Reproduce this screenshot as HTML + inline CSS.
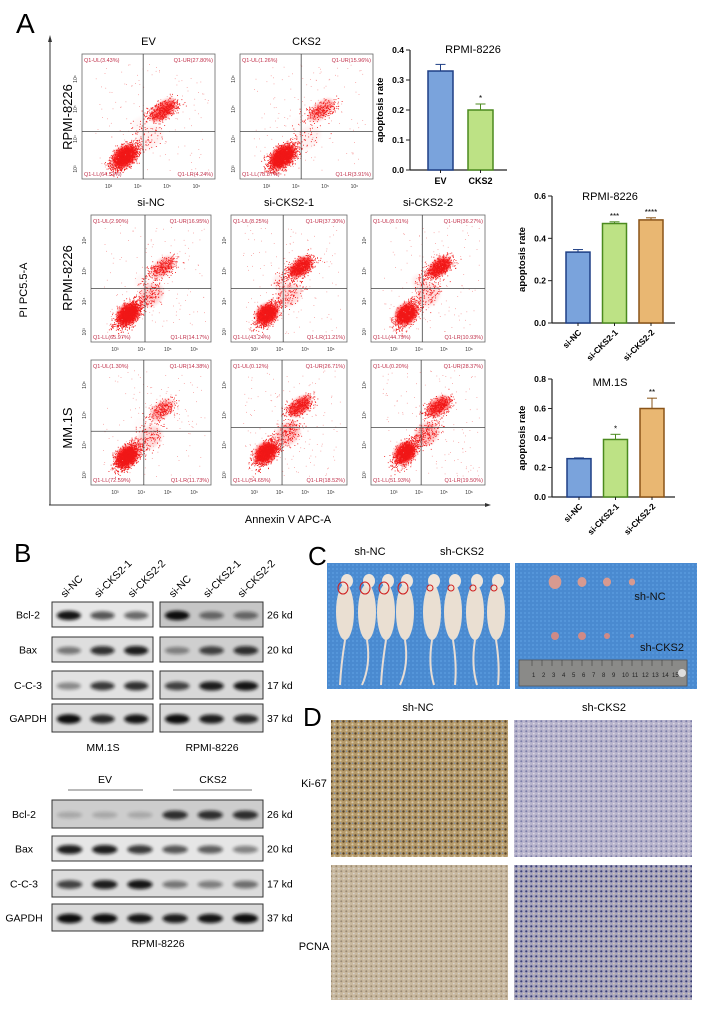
<!DOCTYPE html>
<html><head><meta charset="utf-8">
<style>
html,body{margin:0;padding:0;background:#fff;}
svg{display:block;font-family:"Liberation Sans",Arial,sans-serif;}
</style></head>
<body>
<svg id="fig" width="720" height="1015" viewBox="0 0 720 1015" xmlns="http://www.w3.org/2000/svg">
<defs>
  <filter id="blur1" x="-50%" y="-50%" width="200%" height="200%"><feGaussianBlur stdDeviation="1.6"/></filter>
  <filter id="blur2" x="-50%" y="-50%" width="200%" height="200%"><feGaussianBlur stdDeviation="3"/></filter>
  <pattern id="ki1" width="6" height="6" patternUnits="userSpaceOnUse"><rect width="6" height="6" fill="#b59a6a"/><circle cx="1.5" cy="1.5" r="1.2" fill="#5a4428"/><circle cx="4.5" cy="4.3" r="1.1" fill="#d8c8a8"/><circle cx="4.6" cy="1.2" r="0.8" fill="#7c90b0"/></pattern>
  <pattern id="ki2" width="5" height="5" patternUnits="userSpaceOnUse"><rect width="5" height="5" fill="#b8b4cc"/><circle cx="1.3" cy="1.3" r="1" fill="#7c7ea8"/><circle cx="3.8" cy="3.6" r="0.9" fill="#dcd8e4"/></pattern>
  <pattern id="pc1" width="5" height="5" patternUnits="userSpaceOnUse"><rect width="5" height="5" fill="#c8b89e"/><circle cx="1.3" cy="1.3" r="1" fill="#9a8a74"/><circle cx="3.8" cy="3.6" r="0.9" fill="#d8d2cc"/></pattern>
  <pattern id="pc2" width="5" height="5" patternUnits="userSpaceOnUse"><rect width="5" height="5" fill="#a9a6bd"/><circle cx="1.3" cy="1.3" r="1.1" fill="#3a3f78"/><circle cx="3.8" cy="3.6" r="0.9" fill="#d2c8b8"/></pattern>
  <pattern id="cloth" width="4" height="4" patternUnits="userSpaceOnUse"><rect width="4" height="4" fill="#4a8ad0"/><rect width="2" height="2" fill="#5596da"/></pattern>
</defs>

<text x="16" y="33" font-size="28">A</text>
<text x="14" y="562" font-size="26">B</text>
<text x="308" y="565" font-size="26">C</text>
<text x="303" y="726" font-size="26">D</text>

<g>
  <line x1="50" y1="505" x2="50" y2="40" stroke="#333" stroke-width="1"/>
  <polygon points="50,35 48,42 52,42" fill="#333"/>
  <line x1="49" y1="505" x2="487" y2="505" stroke="#333" stroke-width="1"/>
  <polygon points="491,505 485,503 485,507" fill="#333"/>
</g>
<text transform="translate(27,290) rotate(-90)" text-anchor="middle" font-size="11">PI PC5.5-A</text>
<text x="288" y="523" text-anchor="middle" font-size="11">Annexin V APC-A</text>
<text transform="translate(72,117) rotate(-90)" text-anchor="middle" font-size="13">RPMI-8226</text>
<text transform="translate(72,278) rotate(-90)" text-anchor="middle" font-size="13">RPMI-8226</text>
<text transform="translate(72,428) rotate(-90)" text-anchor="middle" font-size="13">MM.1S</text>
<g id="flow"></g>
<g id="bars"></g>
<g id="blots"></g>

<text x="370" y="555" text-anchor="middle" font-size="11">sh-NC</text>
<text x="462" y="555" text-anchor="middle" font-size="11">sh-CKS2</text>
<g>
  <rect x="327" y="563" width="183" height="126" fill="url(#cloth)"/>
  <g id="mice"></g>
</g>
<g>
  <rect x="515" y="563" width="182" height="126" fill="url(#cloth)"/>
  <g id="tumors"></g>
  <rect x="519" y="660" width="168" height="26" fill="#8a8a88" stroke="#555" stroke-width="0.8"/>
  <g id="ruler"></g>
  <circle cx="682" cy="673" r="4" fill="#ddd"/>
  <text x="650" y="600" text-anchor="middle" font-size="11" fill="#111">sh-NC</text>
  <text x="662" y="651" text-anchor="middle" font-size="11" fill="#111">sh-CKS2</text>
</g>

<text x="418" y="711" text-anchor="middle" font-size="11">sh-NC</text>
<text x="604" y="711" text-anchor="middle" font-size="11">sh-CKS2</text>
<text x="314" y="787" text-anchor="middle" font-size="11">Ki-67</text>
<text x="314" y="950" text-anchor="middle" font-size="11">PCNA</text>
<rect x="331" y="720" width="177" height="137" fill="url(#ki1)"/>
<rect x="514" y="720" width="178" height="137" fill="url(#ki2)"/>
<rect x="331" y="865" width="177" height="135" fill="url(#pc1)"/>
<rect x="514" y="865" width="178" height="135" fill="url(#pc2)"/>
</svg>

<script>
const NS="http://www.w3.org/2000/svg";
function mk(tag,attrs,parent,txt){const e=document.createElementNS(NS,tag);for(const k in attrs)e.setAttribute(k,attrs[k]);if(txt!==undefined)e.textContent=txt;parent.appendChild(e);return e;}

const flowTitles=["EV","CKS2","si-NC","si-CKS2-1","si-CKS2-2","","",""];
const flowUL=[3.43,1.26,2.90,8.25,8.01,1.30,0.12,0.20];
const flowUR=[27.80,15.96,16.95,37.30,36.27,14.38,26.71,28.37];
const flowLL=[64.53,78.87,65.97,43.24,44.79,72.59,54.65,51.93];
const flowLR=[4.24,3.91,14.17,11.21,10.93,11.73,18.52,19.50];
const flowBoxes=[[82,54,133,125],[240,54,133,125],[91,215,120,127],[231,215,116,127],[371,215,114,127],[91,360,120,125],[231,360,116,125],[371,360,114,125]];
const flowGate=[[0.46,0.62],[0.46,0.62],[0.45,0.58],[0.45,0.58],[0.45,0.58],[0.44,0.57],[0.44,0.54],[0.44,0.54]];
let seed=7;function rnd(){seed=(seed*16807)%2147483647;return seed/2147483647;}
function gauss(){return (rnd()+rnd()+rnd()+rnd()-2)/1.2;}
const flow=document.getElementById('flow');
flowBoxes.forEach((b,i)=>{
  const [x,y,w,h]=b;const g=mk('g',{},flow);
  
  
  mk('rect',{x:x,y:y,width:w,height:h,fill:'#fff',stroke:'#666','stroke-width':0.8},g);
  const gx=x+w*flowGate[i][0], gy=y+h*flowGate[i][1];
  const clusters=[[gx-w*0.14,gy+h*0.2,w*0.09,h*0.09,flowLL[i],1],[gx+w*0.15,gy-h*0.17,w*0.1,h*0.07,flowUR[i],1],[gx+w*0.05,gy+h*0.05,w*0.1,h*0.1,flowLR[i],0.6],[gx-w*0.02,gy-h*0.05,w*0.06,h*0.08,flowUL[i],0.4]];
  clusters.forEach(c=>{
    mk('ellipse',{cx:c[0],cy:c[1],rx:c[2]*1.1,ry:c[3]*0.8,fill:'#ff1010',opacity:Math.min(0.95,c[4]/45)*c[5],filter:'url(#blur1)',transform:'rotate(-40 '+c[0]+' '+c[1]+')'},g);
    const n=Math.round(c[4]*18*c[5]);
    for(let k=0;k<n;k++){const u=gauss(),v=gauss();const px=c[0]+(u*1.2+v*0.4)*c[2],py=c[1]-(u*1.0)*c[3]+v*c[3]*0.8;
      if(px>x+2&&px<x+w-2&&py>y+2&&py<y+h-2)mk('rect',{x:px.toFixed(1),y:py.toFixed(1),width:0.9,height:0.9,fill:'#f01818'},g);}
  });
  for(let k=0;k<140;k++){const px=x+w*(0.1+rnd()*0.85),py=y+h*(0.08+rnd()*0.85);
    mk('rect',{x:px.toFixed(1),y:py.toFixed(1),width:0.8,height:0.8,fill:'#f59090'},g);}
  mk('line',{x1:gx,y1:y,x2:gx,y2:y+h,stroke:'#444','stroke-width':0.8},g);
  mk('line',{x1:x,y1:gy,x2:x+w,y2:gy,stroke:'#444','stroke-width':0.8},g);
  const fs=5.5,col='#c0304a';
  mk('text',{x:x+2,y:y+8,'font-size':fs,fill:col},g,'Q1-UL('+flowUL[i].toFixed(2)+'%)');
  mk('text',{x:x+w-2,y:y+8,'font-size':fs,fill:col,'text-anchor':'end'},g,'Q1-UR('+flowUR[i].toFixed(2)+'%)');
  mk('text',{x:x+2,y:y+h-3,'font-size':fs,fill:col},g,'Q1-LL('+flowLL[i].toFixed(2)+'%)');
  mk('text',{x:x+w-2,y:y+h-3,'font-size':fs,fill:col,'text-anchor':'end'},g,'Q1-LR('+flowLR[i].toFixed(2)+'%)');
  ['10³','10⁴','10⁵','10⁶'].forEach((t,j)=>{const tx=x+w*(0.2+j*0.22);
    mk('text',{x:tx,y:y+h+9,'font-size':5,'text-anchor':'middle',fill:'#333'},g,t);
    const ty=y+h*(0.92-j*0.24);
    mk('text',{x:x-5,y:ty,'font-size':5,'text-anchor':'middle',fill:'#333',transform:'rotate(-90 '+(x-5)+' '+ty+')'},g,t);});
  if(flowTitles[i]){const tt=mk('text',{x:x+w/2,y:y-9,'font-size':11,'text-anchor':'middle'},g,flowTitles[i]);
    
    }
});

const c1Cats=["EV","CKS2"];const c1Vals=[0.33,0.20];const c1Errs=[0.022,0.02];const c1Stars=["","*"];const c1Ticks=[0,0.1,0.2,0.3,0.4];
const c2Cats=["si-NC","si-CKS2-1","si-CKS2-2"];const c2Vals=[0.335,0.47,0.487];const c2Errs=[0.012,0.008,0.01];const c2Stars=["","***","****"];const c2Ticks=[0,0.2,0.4,0.6];
const c3Cats=["si-NC","si-CKS2-1","si-CKS2-2"];const c3Vals=[0.26,0.39,0.60];const c3Errs=[0.005,0.035,0.07];const c3Stars=["","*","**"];const c3Ticks=[0,0.2,0.4,0.6,0.8];
const fills=['#7aa3dc','#bde285','#e9b772'],strokes=['#1e3f85','#4b8a1e','#8a5418'];
const bars=document.getElementById('bars');
function barChart(name,title,cats,vals,errs,stars,ticks,o){
  const g=mk('g',{},bars);
  const max=ticks[ticks.length-1];const ys=v=>o.y0-(v/max)*(o.y0-o.yTop);
  mk('line',{x1:o.ax,y1:o.yTop,x2:o.ax,y2:o.y0,stroke:'#222','stroke-width':1.2},g);
  mk('line',{x1:o.ax,y1:o.y0,x2:o.xEnd,y2:o.y0,stroke:'#222','stroke-width':1.2},g);
  ticks.forEach(t=>{const yy=ys(t);mk('line',{x1:o.ax-4,y1:yy,x2:o.ax,y2:yy,stroke:'#222','stroke-width':1},g);
    mk('text',{x:o.ax-6,y:yy+3,'font-size':8.5,'font-weight':'bold','text-anchor':'end'},g,t.toFixed(1));});
  const yl=(o.y0+o.yTop)/2;
  mk('text',{x:o.ax-27,y:yl,'font-size':9.5,'font-weight':'bold','text-anchor':'middle',transform:'rotate(-90 '+(o.ax-27)+' '+yl+')'},g,'apoptosis rate');
  mk('text',{x:o.tx,y:o.ty,'font-size':11,'text-anchor':'middle'},g,title);
  cats.forEach((c,i)=>{const bx=o.x0+i*o.step,yv=ys(vals[i]),ye=ys(vals[i]+errs[i]);
    const r=mk('rect',{x:bx,y:yv,width:o.bw,height:o.y0-yv,fill:fills[i],stroke:strokes[i],'stroke-width':1.5},g);
    
    const cx=bx+o.bw/2;
    mk('line',{x1:cx,y1:yv,x2:cx,y2:ye,stroke:strokes[i],'stroke-width':1},g);
    mk('line',{x1:cx-5,y1:ye,x2:cx+5,y2:ye,stroke:strokes[i],'stroke-width':1},g);
    if(stars[i])mk('text',{x:cx,y:ye-3,'font-size':8,'text-anchor':'middle'},g,stars[i]);
    mk('line',{x1:cx,y1:o.y0,x2:cx,y2:o.y0+3,stroke:'#222','stroke-width':1},g);
    if(o.rot){mk('text',{x:cx+4,y:o.y0+10,'font-size':8.5,'font-weight':'bold','text-anchor':'end',transform:'rotate(-45 '+(cx+4)+' '+(o.y0+10)+')'},g,c);}
    else mk('text',{x:cx,y:o.y0+14,'font-size':9,'font-weight':'bold','text-anchor':'middle'},g,c);
  });
}
barChart('bar-chart-ev-cks2','RPMI-8226',c1Cats,c1Vals,c1Errs,c1Stars,c1Ticks,{ax:410,y0:170,yTop:50,xEnd:507,x0:428,step:40,bw:25,tx:473,ty:53,rot:false});
barChart('bar-chart-rpmi-si','RPMI-8226',c2Cats,c2Vals,c2Errs,c2Stars,c2Ticks,{ax:552,y0:323,yTop:196,xEnd:675,x0:566,step:36.5,bw:24,tx:610,ty:200,rot:true});
barChart('bar-chart-mm1s-si','MM.1S',c3Cats,c3Vals,c3Errs,c3Stars,c3Ticks,{ax:552,y0:497,yTop:379,xEnd:675,x0:567,step:36.5,bw:24,tx:610,ty:386,rot:true});

const blotRows=["Bcl-2","Bax","C-C-3","GAPDH"];const blotKd=["26 kd","20 kd","17 kd","37 kd"];
const mmBands=[[0.95,0.6,0.5],[0.4,0.8,0.9],[0.3,0.75,0.8],[1,0.85,0.95]];
const rpBands=[[1,0.45,0.45],[0.3,0.7,0.8],[0.7,0.9,0.95],[1,0.9,0.85]];
const evBands=[[0.05,0.05,0.05,0.8,0.8,0.8],[0.9,0.9,0.75,0.6,0.55,0.35],[0.7,0.9,0.95,0.4,0.35,0.45],[1,1,0.95,0.9,0.95,1]];
const blots=document.getElementById('blots');
function blotPanel(name,x,w,rowsY,rowsH,bands,bg){
  const g=mk('g',{},blots);
  rowsY.forEach((ry,r)=>{mk('rect',{x:x,y:ry,width:w,height:rowsH[r],fill:bg[r],stroke:'#333','stroke-width':1},g);
    const n=bands[r].length,lw=w/n;
    bands[r].forEach((v,k)=>{const cx=x+lw*(k+0.5),cy=ry+rowsH[r]/2+1;
      mk('ellipse',{cx:cx,cy:cy,rx:lw*0.36,ry:3.2+v*1.5,fill:'#111',opacity:(0.15+v*0.85).toFixed(2),filter:'url(#blur1)'},g);});
  });
}
const topY=[602,637,671,704],topH=[25,25,28,28];
blotPanel('blot-mm1s',52,101,topY,topH,mmBands,['#e6e6e6','#dedede','#e2e2e2','#dcdcdc']);
blotPanel('blot-rpmi-si',160,103,topY,topH,rpBands,['#c6c6c6','#cfcfcf','#d8d8d8','#dadada']);
const botY=[800,836,870,904],botH=[28,25,27,27];
blotPanel('blot-rpmi-ev-cks2',52,211,botY,botH,evBands,['#cdcdcd','#e6e6e6','#dcdcdc','#dadada']);
blotRows.forEach((r,i)=>{
  mk('text',{x:28,y:topY[i]+topH[i]/2+4,'font-size':10.5,'text-anchor':'middle'},blots,r);
  mk('text',{x:267,y:topY[i]+topH[i]/2+4,'font-size':10.5},blots,blotKd[i]);
  mk('text',{x:24,y:botY[i]+botH[i]/2+4,'font-size':10.5,'text-anchor':'middle'},blots,r);
  mk('text',{x:267,y:botY[i]+botH[i]/2+4,'font-size':10.5},blots,blotKd[i]);
});
const laneLabels=["si-NC","si-CKS2-1","si-CKS2-2"];
[[52,101],[160,103]].forEach(p=>{laneLabels.forEach((l,k)=>{const cx=p[0]+p[1]/6*(2*k+1)-4,cy=598;
  mk('text',{x:cx,y:cy,'font-size':10.5,transform:'rotate(-45 '+cx+' '+cy+')'},blots,l);});});
mk('text',{x:103,y:751,'font-size':10.5,'text-anchor':'middle'},blots,'MM.1S');
mk('text',{x:212,y:751,'font-size':10.5,'text-anchor':'middle'},blots,'RPMI-8226');
mk('text',{x:105,y:783,'font-size':10.5,'text-anchor':'middle'},blots,'EV');
mk('text',{x:213,y:783,'font-size':10.5,'text-anchor':'middle'},blots,'CKS2');
mk('line',{x1:68,y1:790,x2:143,y2:790,stroke:'#444','stroke-width':0.8},blots);
mk('line',{x1:173,y1:790,x2:252,y2:790,stroke:'#444','stroke-width':0.8},blots);
mk('text',{x:158,y:947,'font-size':10.5,'text-anchor':'middle'},blots,'RPMI-8226');

const mice=document.getElementById('mice');
const miceX=[345,367,386,405,432,453,475,496];
miceX.forEach((mx,i)=>{
  mk('path',{d:'M'+mx+' 640 Q'+(mx+(i%2?4:-4))+' 665 '+(mx+(i<4?-5:2))+' 685',stroke:'#e8ddd4','stroke-width':2,fill:'none'},mice);
  mk('ellipse',{cx:mx,cy:612,rx:9,ry:28,fill:'#eadfd2'},mice);
  mk('ellipse',{cx:mx+2,cy:581,rx:6,ry:7,fill:'#efe5da'},mice);
  mk('ellipse',{cx:mx-2,cy:588,rx:i<4?5:3,ry:i<4?6:3,fill:'none',stroke:'#d02020','stroke-width':1},mice);
});
const tumors=document.getElementById('tumors');
const tumorNC=[7,5,4.5,3.5],tumorSH=[4,4,3,2];const tumorX=[555,582,607,632];
tumorX.forEach((tx,i)=>{mk('ellipse',{cx:tx,cy:582,rx:tumorNC[i]*0.9,ry:tumorNC[i],fill:'#d89a90'},tumors);
  mk('ellipse',{cx:tx,cy:636,rx:tumorSH[i],ry:tumorSH[i],fill:'#d08a86'},tumors);});
const ruler=document.getElementById('ruler');
for(let k=1;k<=15;k++){mk('text',{x:522+k*10,y:677,'font-size':6,fill:'#222'},ruler,String(k));
  mk('line',{x1:522+k*10,y1:660,x2:522+k*10,y2:666,stroke:'#333','stroke-width':0.5},ruler);}
</script>
</body></html>
